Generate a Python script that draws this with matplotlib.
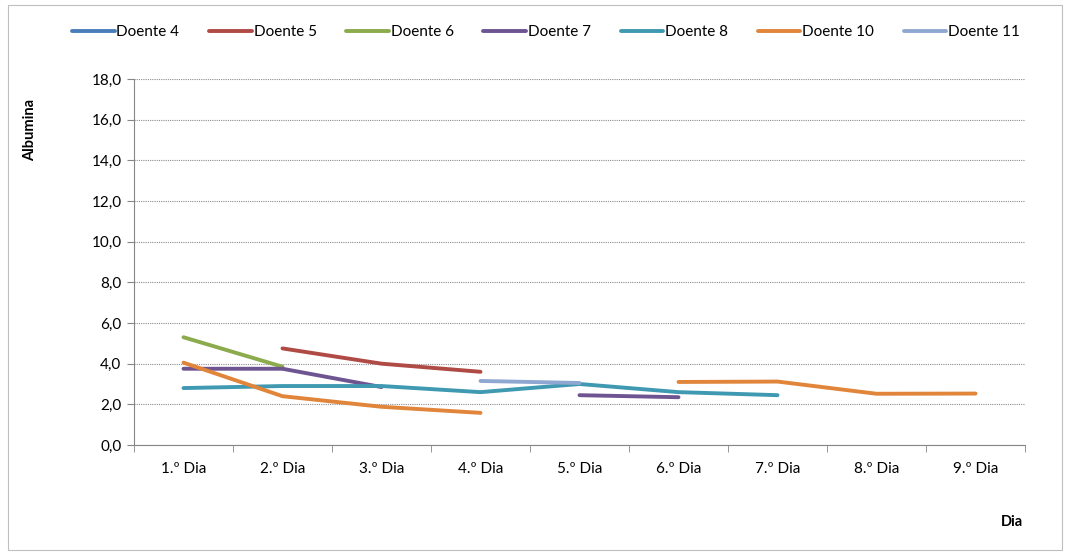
import matplotlib
matplotlib.use("Agg")
import matplotlib.pyplot as plt
import numpy as np
from matplotlib.patches import Rectangle

plt.rcParams['font.family'] = ['Lato', 'DejaVu Sans']

dias = ["1.º Dia", "2.º Dia", "3.º Dia", "4.º Dia", "5.º Dia",
        "6.º Dia", "7.º Dia", "8.º Dia", "9.º Dia"]
nan = np.nan
doente4 = [nan, nan, nan, nan, nan, nan, nan, nan, nan]
doente5 = [nan, 4.75, 4.0, 3.6, nan, nan, nan, nan, nan]
doente6 = [5.3, 3.85, nan, nan, nan, nan, nan, nan, nan]
doente7 = [3.75, 3.75, 2.85, nan, 2.45, 2.35, nan, nan, nan]
doente8 = [2.8, 2.9, 2.9, 2.6, 3.0, 2.6, 2.45, nan, nan]
doente10 = [4.05, 2.4, 1.88, 1.58, nan, 3.1, 3.12, 2.52, 2.53]
doente11 = [nan, nan, nan, 3.15, 3.05, nan, nan, nan, nan]

series = [("Doente 4", doente4, "#4A7EBB"),
          ("Doente 5", doente5, "#B04A45"),
          ("Doente 6", doente6, "#8CAB4C"),
          ("Doente 7", doente7, "#6E5592"),
          ("Doente 8", doente8, "#3F99B1"),
          ("Doente 10", doente10, "#E0853A"),
          ("Doente 11", doente11, "#8FA8D2")]

fig = plt.figure(figsize=(10.7, 5.55), dpi=100)
ax = fig.add_axes([134 / 1070, 1 - 445 / 555, (1025 - 134) / 1070, (445 - 79) / 555])

x = np.arange(1, len(dias) + 1)
for nome, vals, cor in series:
    ax.plot(x, vals, color=cor, lw=2.8, label=nome, solid_capstyle="round")

ax.set_xlim(0.5, 9.5)
ax.set_ylim(0, 18)
ax.set_yticks(np.arange(0, 18.1, 2))
ax.set_yticklabels([f"{v:.1f}".replace(".", ",") for v in np.arange(0, 18.1, 2)])
ax.set_xticks(x)
ax.set_xticklabels(dias)
ax.set_xticks(np.arange(0.5, 9.6, 1), minor=True)
ax.tick_params(axis="x", which="major", length=0, pad=12, labelsize=11)
ax.tick_params(axis="x", which="minor", length=5, color="#868686", direction="out")
ax.tick_params(axis="y", length=5, color="#868686", labelsize=11, pad=4)

ax.grid(axis="y", color="#8c8c8c", linestyle=(0, (1, 1)), lw=0.8)
ax.set_axisbelow(True)
for s in ["top", "right"]:
    ax.spines[s].set_visible(False)
for s in ["left", "bottom"]:
    ax.spines[s].set_color("#868686")

fig.text(30 / 1070, 1 - 130 / 555, "Albumina", rotation=90, fontsize=10.5,
         fontweight="bold", ha="center", va="center")
fig.text(1012 / 1070, 1 - 522 / 555, "Dia", fontsize=10.5, fontweight="bold",
         ha="center", va="center")

fig.legend(loc="center", bbox_to_anchor=(546 / 1070, 1 - 32 / 555), ncol=7, frameon=False,
           fontsize=11, handlelength=2.8, handletextpad=0.1, columnspacing=1.95)

fig.patches.append(Rectangle((8 / 1070, 5 / 555), 1054 / 1070, 545 / 555,
                             transform=fig.transFigure, fill=False,
                             edgecolor="#bfbfbf", lw=0.8))

fig.savefig("out.png", dpi=100)
